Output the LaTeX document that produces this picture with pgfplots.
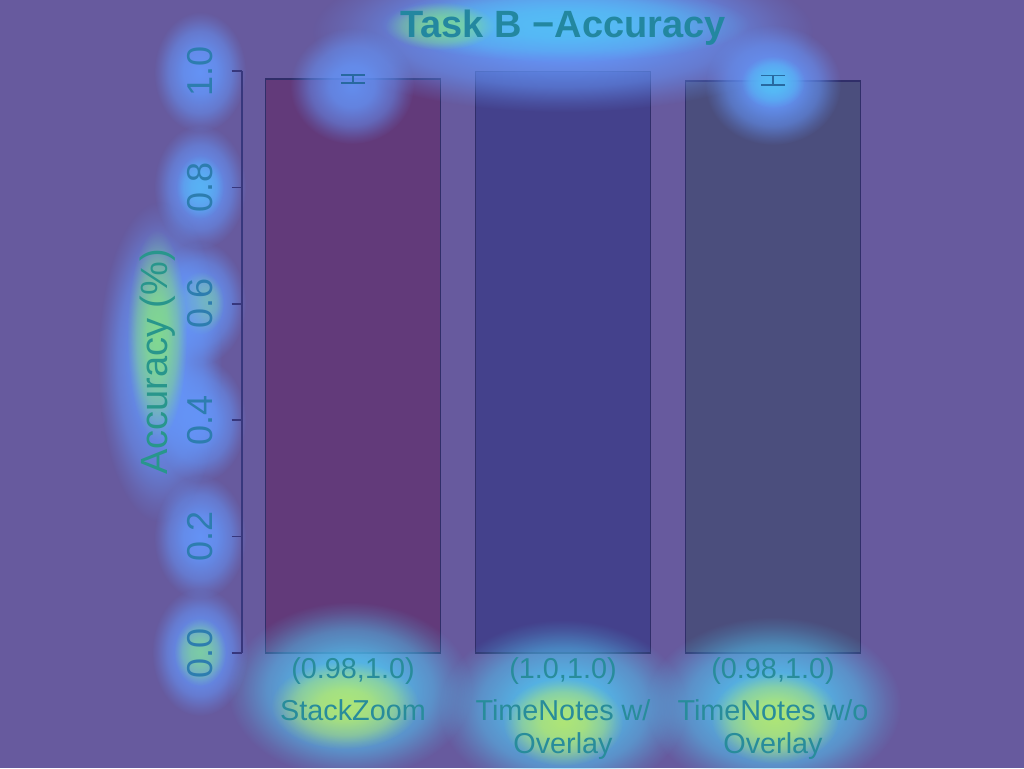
\documentclass[border=0pt]{standalone}
\usepackage{fontspec}
\setmainfont{Liberation Sans}
\usepackage{pgfplots}
\pgfplotsset{compat=1.18}
\usetikzlibrary{fadings}
\definecolor{bg}{RGB}{103,90,158}
\definecolor{barA}{RGB}{98,58,122}
\definecolor{barB}{RGB}{68,65,140}
\definecolor{barC}{RGB}{75,78,125}
\definecolor{barline}{RGB}{48,46,105}
\definecolor{axcol}{RGB}{55,55,125}
\definecolor{gblue}{RGB}{100,150,250}
\definecolor{gcyan}{RGB}{80,200,245}
\definecolor{ggreen}{RGB}{140,240,110}
\definecolor{gyellow}{RGB}{205,245,80}
\definecolor{tick}{RGB}{45,125,175}
\definecolor{ttl}{RGB}{35,135,160}
\definecolor{ylab}{RGB}{40,150,140}
\definecolor{xlab}{RGB}{40,140,155}
\definecolor{errc}{RGB}{40,105,160}
\pgfdeclareradialshading{glowsh}{\pgfpointorigin}{color(0bp)=(white); color(9bp)=(white!88!black); color(17bp)=(white!55!black); color(22bp)=(white!18!black); color(25bp)=(black); color(50bp)=(black)}
\pgfdeclarefading{glowfade}{\pgfuseshading{glowsh}}
\newcommand{\glow}[4]{\fill[#1, opacity=#2, path fading=glowfade, fit fading=true] (#3) ellipse [#4];}
\begin{document}
\begin{tikzpicture}
\useasboundingbox (0,0) rectangle (512pt,384pt);
\fill[bg] (0,0) rectangle (512pt,384pt);
\clip (0,0) rectangle (512pt,384pt);
% ---------- bars ----------
\begin{axis}[
  at={(120.85pt,57.5pt)}, anchor=south west,
  scale only axis, width=321.3pt, height=291pt,
  xmin=0.064, xmax=3.736, ymin=0, ymax=1,
  hide axis,
]
\addplot[ybar, bar width=1, bar shift=0pt, fill=barA, draw=barline, line width=0.9pt] coordinates {(0.7,0.986)};
\addplot[ybar, bar width=1, bar shift=0pt, fill=barB, draw=barline, line width=0.9pt] coordinates {(1.9,1.0)};
\addplot[ybar, bar width=1, bar shift=0pt, fill=barC, draw=barline, line width=0.9pt] coordinates {(3.1,0.983)};
\end{axis}
% ---------- saliency glows (pixel coordinates) ----------
\begin{scope}[x=0.5pt, y=-0.5pt, yshift=384pt]
\glow{gblue}{1}{563,32}{x radius=250, y radius=80}
\glow{gcyan}{0.8}{565,24}{x radius=185, y radius=38}
\glow{ggreen}{0.6}{440,26}{x radius=55, y radius=24}
\glow{gblue}{0.9}{352,86}{x radius=62, y radius=58}
\glow{gblue}{1}{773,85}{x radius=68, y radius=60}
\glow{gcyan}{0.8}{773,82}{x radius=32, y radius=26}
% y tick labels
\glow{gblue}{0.95}{200,72}{x radius=46, y radius=60}
\glow{gblue}{0.95}{200,187}{x radius=46, y radius=62}
\glow{gblue}{0.95}{200,303}{x radius=46, y radius=62}
\glow{gblue}{0.95}{200,420}{x radius=46, y radius=62}
\glow{gblue}{0.95}{200,537}{x radius=46, y radius=62}
\glow{gblue}{1}{200,652}{x radius=48, y radius=64}
\glow{ggreen}{0.6}{200,652}{x radius=26, y radius=34}
\glow{ggreen}{0.55}{200,303}{x radius=24, y radius=32}
\glow{gcyan}{0.6}{200,187}{x radius=24, y radius=32}
% y label
\glow{gblue}{1}{160,362}{x radius=62, y radius=160}
\glow{ggreen}{0.75}{157,335}{x radius=30, y radius=105}
% x labels
\glow{gcyan}{0.9}{350,690}{x radius=122, y radius=88}
\glow{gyellow}{0.75}{345,705}{x radius=74, y radius=44}
\glow{gcyan}{0.9}{563,708}{x radius=124, y radius=88}
\glow{gyellow}{0.75}{563,722}{x radius=60, y radius=44}
\glow{gcyan}{0.9}{773,705}{x radius=128, y radius=88}
\glow{gyellow}{0.75}{775,718}{x radius=64, y radius=46}
\end{scope}
% ---------- axis, labels, error bars ----------
\begin{axis}[
  at={(120.85pt,57.5pt)}, anchor=south west,
  scale only axis, width=321.3pt, height=291pt,
  xmin=0.064, xmax=3.736, ymin=0, ymax=1,
  axis y line*=left, axis x line*=bottom,
  x axis line style={draw=none},
  y axis line style={draw=axcol, line width=0.8pt},
  xtick={0.7,1.9,3.1},
  xticklabels={{(0.98,1.0)\\[4.5pt]StackZoom},{(1.0,1.0)\\[4.5pt]TimeNotes w/\\Overlay},{(0.98,1.0)\\[4.5pt]TimeNotes w/o\\Overlay}},
  xtick style={draw=none},
  xticklabel style={align=center, anchor=north, inner sep=0pt, yshift=3pt, font=\fontsize{14.4}{16.5}\selectfont, text=xlab},
  ytick={0,0.2,0.4,0.6,0.8,1.0},
  yticklabels={0.0,0.2,0.4,0.6,0.8,1.0},
  tick align=outside, major tick length=5pt,
  ytick style={draw=axcol, line width=0.8pt},
  yticklabel style={xshift=-9pt, rotate=90, anchor=south, inner sep=0pt, font=\fontsize{18}{21}\selectfont, text=tick},
  ylabel={Accuracy (\%)},
  ylabel style={at={(rel axis cs:0,0.5)}, anchor=center, yshift=42pt, font=\fontsize{19}{22}\selectfont, text=ylab},
  title={\textbf{Task B −Accuracy}},
  title style={at={(0.5,1)}, anchor=center, yshift=15.5pt, font=\fontsize{19}{22}\selectfont, text=ttl},
]
\addplot[draw=none, mark=none, error bars/.cd, y dir=both, y explicit,
  error mark options={rotate=90, draw=errc, line width=0.8pt, mark size=6pt},
  error bar style={draw=errc, line width=0.8pt}]
  coordinates {(0.7,0.986) +- (0,0.007) (3.1,0.984) +- (0,0.008)};
\end{axis}
\end{tikzpicture}
\end{document}
